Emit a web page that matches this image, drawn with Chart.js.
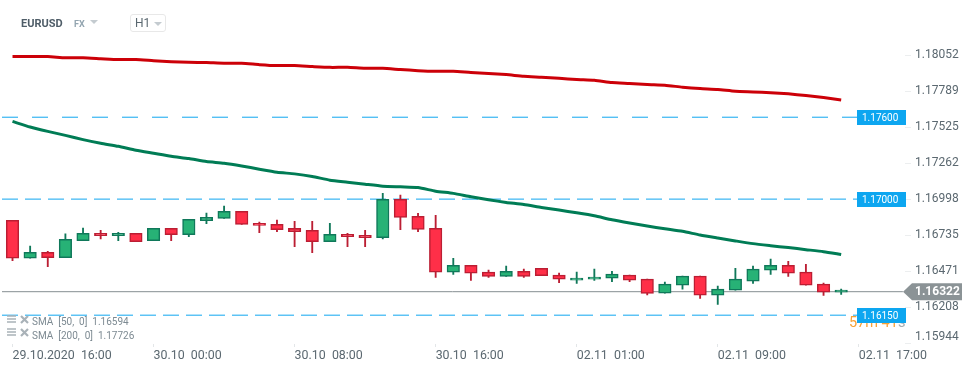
<!DOCTYPE html>
<html>
<head>
<meta charset="utf-8">
<title>EURUSD</title>
<script src="https://cdn.jsdelivr.net/npm/chart.js@4"></script>
<style>
    body { margin: 0; background: #fff; font-family: Roboto, sans-serif; overflow: hidden; }
    #grafico { position: absolute; left: 0; top: 0; }
    .txt { position: absolute; white-space: pre; z-index: 2; }
    #par { left: 21px; top: 17px; font-size: 11px; font-weight: 700; color: #4f5d68; }
    #fx { left: 74px; top: 19px; font-size: 9px; font-weight: 700; color: #93a5b0; }
    #tempo { left: 130px; top: 14px; width: 34px; height: 16px; border: 1px solid #e8e8e8; border-radius: 3px; }
    #h1 { left: 135px; top: 16px; font-size: 12px; color: #5b6870; }
    .seta { position: absolute; z-index: 2; width: 0; height: 0; border-left: 4px solid transparent; border-right: 4px solid transparent; border-top: 4px solid #c4cbd0; }
    .sma { left: 32px; font-size: 10px; color: #7d8a92; }
    .ico { position: absolute; left: 6px; z-index: 2; }
</style>
</head>
<body>
<div class="txt" id="par">EURUSD</div>
<div class="txt" id="fx">FX</div>
<div class="seta" style="left:90px;top:20px"></div>
<div class="txt" id="tempo"></div>
<div class="txt" id="h1">H1</div>
<div class="seta" style="left:154px;top:22px"></div>

<svg class="ico" style="top:315px" width="24" height="9"><path d="M1 1h9M1 4h9M1 7h9" stroke="#a9b2b8" stroke-width="1.5"/><path d="M15 1l7 7M22 1l-7 7" stroke="#a9b2b8" stroke-width="2.2"/></svg>
<svg class="ico" style="top:328px" width="24" height="9"><path d="M1 1h9M1 4h9M1 7h9" stroke="#a9b2b8" stroke-width="1.5"/><path d="M15 1l7 7M22 1l-7 7" stroke="#a9b2b8" stroke-width="2.2"/></svg>
<div class="txt sma" style="top:316px">SMA  [50,  0]  1.16594</div>
<div class="txt sma" style="top:330px">SMA  [200,  0]  1.17726</div>

<canvas id="grafico" width="974" height="368"></canvas>

<script>
var abertura = [1.16845,1.16567,1.16611,1.16572,1.16696,1.16750,1.16732,1.16750,1.16696,1.16786,1.16740,1.16842,1.16859,1.16910,1.16823,1.16815,1.16786,1.16772,1.16688,1.16742,1.16735,1.16718,1.16998,1.16874,1.16786,1.16465,1.16516,1.16465,1.16433,1.16472,1.16494,1.16443,1.16407,1.16414,1.16421,1.16443,1.16414,1.16312,1.16370,1.16436,1.16297,1.16334,1.16399,1.16480,1.16516,1.16465,1.16378,1.16319]
var fechamento = [1.16567,1.16611,1.16572,1.16706,1.16750,1.16732,1.16750,1.16688,1.16786,1.16740,1.16852,1.16866,1.16910,1.16815,1.16808,1.16776,1.16761,1.16688,1.16742,1.16725,1.16718,1.16998,1.16866,1.16779,1.16465,1.16516,1.16458,1.16433,1.16472,1.16433,1.16440,1.16414,1.16421,1.16429,1.16451,1.16407,1.16309,1.16378,1.16436,1.16297,1.16341,1.16414,1.16487,1.16516,1.16458,1.16370,1.16319,1.16334]
var maximo = [1.16845,1.16657,1.16618,1.16745,1.16788,1.16772,1.16757,1.16750,1.16786,1.16786,1.16852,1.16898,1.16949,1.16910,1.16832,1.16847,1.16837,1.16837,1.16823,1.16750,1.16772,1.17042,1.17029,1.16896,1.16881,1.16567,1.16516,1.16480,1.16509,1.16487,1.16494,1.16458,1.16465,1.16487,1.16472,1.16443,1.16414,1.16392,1.16436,1.16436,1.16363,1.16494,1.16509,1.16560,1.16545,1.16523,1.16385,1.16341]
var minimo = [1.16550,1.16567,1.16506,1.16572,1.16696,1.16708,1.16696,1.16688,1.16696,1.16696,1.16725,1.16820,1.16859,1.16815,1.16754,1.16761,1.16652,1.16608,1.16688,1.16652,1.16652,1.16708,1.16776,1.16761,1.16426,1.16448,1.16404,1.16426,1.16433,1.16426,1.16440,1.16389,1.16382,1.16404,1.16396,1.16396,1.16299,1.16312,1.16341,1.16272,1.16229,1.16334,1.16382,1.16448,1.16433,1.16370,1.16294,1.16302]
var sma200 = [1.18044,1.18044,1.18044,1.18036,1.18036,1.18029,1.18022,1.18022,1.18014,1.18007,1.18003,1.18000,1.17995,1.17995,1.17985,1.17978,1.17978,1.17971,1.17965,1.17965,1.17958,1.17958,1.17949,1.17941,1.17936,1.17936,1.17927,1.17920,1.17912,1.17900,1.17893,1.17885,1.17876,1.17870,1.17854,1.17847,1.17839,1.17834,1.17820,1.17810,1.17803,1.17790,1.17785,1.17779,1.17771,1.17759,1.17744,1.17726]
var sma50 = [1.17569,1.17528,1.17496,1.17467,1.17436,1.17409,1.17387,1.17358,1.17336,1.17314,1.17297,1.17275,1.17263,1.17243,1.17219,1.17197,1.17185,1.17166,1.17139,1.17124,1.17109,1.17095,1.17090,1.17085,1.17058,1.17042,1.17017,1.16995,1.16976,1.16961,1.16939,1.16920,1.16900,1.16878,1.16849,1.16825,1.16803,1.16783,1.16764,1.16737,1.16715,1.16694,1.16674,1.16659,1.16645,1.16630,1.16615,1.16594]

var niveis = [1.17600, 1.17000, 1.16150]
var tracosNiveis = [[16, 14], [16, 7], [16, 7]]
var ultimoPreco = 1.16322

var ticksY = [1.18052, 1.17789, 1.17525, 1.17262, 1.16998, 1.16735, 1.16471, 1.16208, 1.15944]
var ticksX = [0, 8, 16, 24, 32, 40, 48]
var rotulosX = ['29.10.2020  16:00', '30.10  00:00', '30.10  08:00', '30.10  16:00', '02.11  01:00', '02.11  09:00', '02.11  17:00']

var xMin = -0.596, xMax = 50.62, xFimNivel = 47.9, xFimPreco = 50.5
var yMin = 1.159389, yMax = 1.183764

var indices = abertura.map(function (v, i) { return i })
var corBorda = indices.map(function (i) { return fechamento[i] >= abertura[i] ? '#10785a' : '#bb1e33' })
var corCorpo = indices.map(function (i) { return fechamento[i] >= abertura[i] ? '#27b276' : '#ff2f48' })

function linhaHorizontal(valor, fim, cor, traco) {
    return {
        type: 'line',
        data: [{ x: xMin, y: valor }, { x: fim, y: valor }],
        borderColor: cor,
        borderWidth: 1,
        borderDash: traco,
        pointRadius: 0,
        order: 5
    }
}

function linhaSma(valores, cor) {
    return {
        type: 'line',
        data: indices.map(function (i) { return { x: i, y: valores[i] } }),
        borderColor: cor,
        borderWidth: 3,
        pointRadius: 0,
        tension: 0.2,
        order: 1
    }
}

// etiquetas de preco e o contador, por cima do grafico
var etiquetas = {
    id: 'etiquetas',
    afterDraw: function (chart) {
        var ctx = chart.ctx
        var y = chart.scales.y
        ctx.save()
        ctx.textBaseline = 'middle'
        ctx.textAlign = 'left'

        ctx.font = '12px Roboto'
        ctx.fillStyle = '#5b6870'
        ctx.fillText('1.15944', 915, y.getPixelForValue(1.15944) - 6)

        ctx.font = '14.5px Roboto'
        ctx.fillStyle = '#f7a136'
        ctx.fillText('57m 41', 849, 323)
        ctx.fillStyle = '#a5adb2'
        ctx.fillText('s', 898, 323)

        niveis.forEach(function (n) {
            var py = y.getPixelForValue(n)
            ctx.fillStyle = '#0da6f0'
            ctx.fillRect(857, Math.round(py) - 7, 49, 15)
            ctx.fillStyle = '#fff'
            ctx.font = '10px Roboto'
            ctx.fillText(n.toFixed(5), 862, py + 1)
        })

        var py = y.getPixelForValue(ultimoPreco)
        ctx.fillStyle = '#8b9396'
        ctx.beginPath()
        ctx.moveTo(903, py)
        ctx.lineTo(912, py - 8.5)
        ctx.lineTo(962, py - 8.5)
        ctx.lineTo(962, py + 8.5)
        ctx.lineTo(912, py + 8.5)
        ctx.closePath()
        ctx.fill()
        ctx.fillStyle = '#fff'
        ctx.font = 'bold 12px Roboto'
        ctx.fillText(ultimoPreco.toFixed(5), 915, py + 0.5)
        ctx.restore()
    }
}

var datasets = [
    {
        type: 'bar',
        data: indices.map(function (i) { return { x: i, y: [abertura[i], fechamento[i]] } }),
        backgroundColor: corCorpo,
        borderColor: corBorda,
        borderWidth: 1.5,
        borderSkipped: false,
        barThickness: 12.5,
        grouped: false,
        order: 2
    },
    {
        type: 'bar',
        data: indices.map(function (i) { return { x: i, y: [minimo[i], maximo[i]] } }),
        backgroundColor: corBorda,
        borderWidth: 0,
        barThickness: 1.2,
        grouped: false,
        order: 3
    },
    linhaSma(sma200, '#cc0008'),
    linhaSma(sma50, '#007c55'),
    linhaHorizontal(ultimoPreco, xFimPreco, '#868e92', [])
]
niveis.forEach(function (n, i) {
    datasets.push(linhaHorizontal(n, xFimNivel, '#0fa6f0', tracosNiveis[i]))
})

new Chart(document.getElementById('grafico').getContext('2d'), {
    data: { datasets: datasets },
    plugins: [etiquetas],
    options: {
        responsive: false,
        animation: false,
        layout: { padding: { left: 2, top: 10, right: 0, bottom: 0 } },
        plugins: { legend: { display: false }, tooltip: { enabled: false } },
        scales: {
            x: {
                type: 'linear',
                offset: false,
                min: xMin,
                max: xMax,
                afterBuildTicks: function (scale) {
                    scale.ticks = ticksX.map(function (v) { return { value: v } })
                },
                afterFit: function (scale) { scale.height = 24 },
                border: { display: false },
                grid: { offset: false, drawOnChartArea: false, tickLength: 3, tickColor: '#e3e6e8' },
                ticks: {
                    autoSkip: false,
                    maxRotation: 0,
                    align: 'start',
                    padding: 1,
                    color: '#5b6870',
                    font: { family: 'Roboto', size: 12.4 },
                    callback: function (valor, i) { return rotulosX[i] }
                }
            },
            y: {
                type: 'linear',
                position: 'right',
                min: yMin,
                max: yMax,
                afterBuildTicks: function (scale) {
                    scale.ticks = ticksY.map(function (v) { return { value: v } })
                },
                afterFit: function (scale) { scale.width = 69 },
                border: { display: false },
                grid: { drawOnChartArea: false, tickLength: 6, tickColor: '#eceeef' },
                ticks: {
                    autoSkip: false,
                    padding: 4,
                    color: '#5b6870',
                    font: { family: 'Roboto', size: 12 },
                    callback: function (valor) {
                        return valor === 1.15944 ? '' : valor.toFixed(5)
                    }
                }
            }
        }
    }
})
</script>
</body>
</html>
